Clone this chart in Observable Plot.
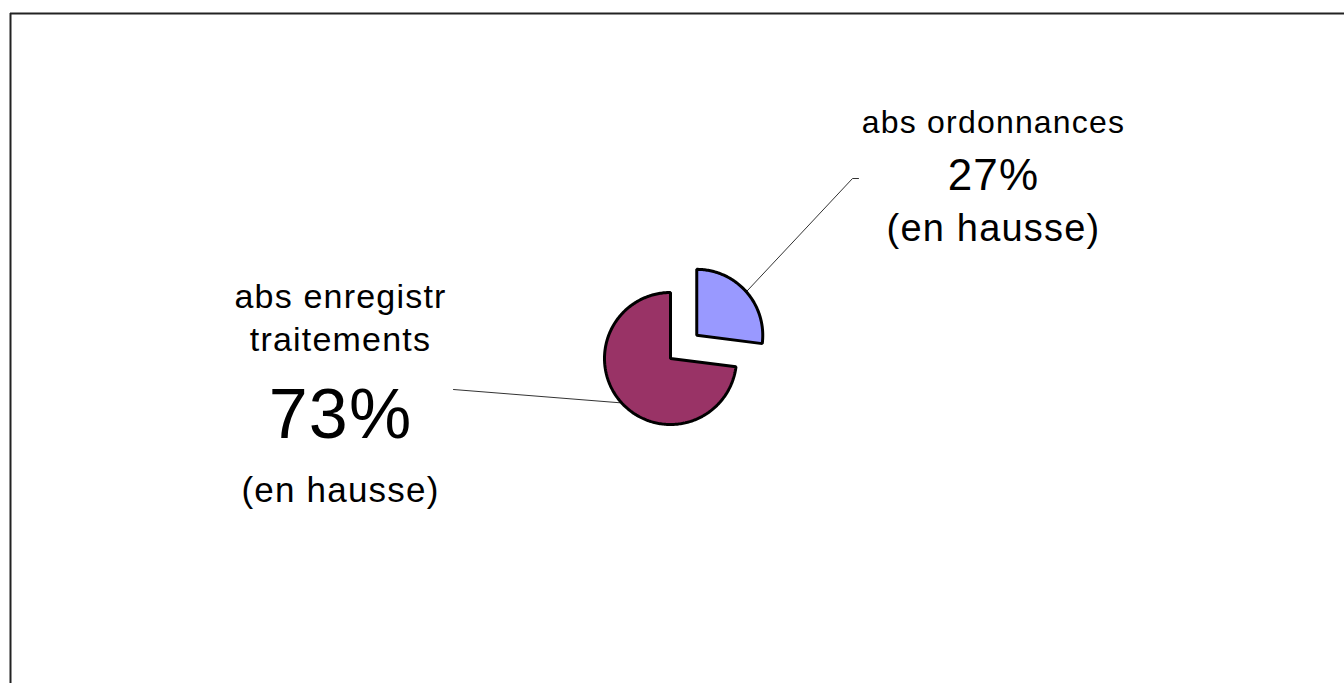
<!DOCTYPE html>
<html>
<head>
<meta charset="utf-8">
<script src="https://cdn.jsdelivr.net/npm/d3@7"></script>
<script src="https://cdn.jsdelivr.net/npm/@observablehq/plot@0.6"></script>
<style>
  body { margin: 0; background: #fff; }
  svg { display: block; }
  svg text { font-family: 'Liberation Sans', Arial, sans-serif; }
</style>
</head>
<body>
<div id="chart"></div>
<script>
// ---- data ----
const categories = ["abs enregistr traitements", "abs ordonnances"];
const shares = [73, 27];
const trends = ["(en hausse)", "(en hausse)"];
const sliceColors = ["#993366", "#9999FF"];

// ---- layout (pixels) ----
const W = 1344, H = 683;
const center = [670, 358];
const R = 66;
const explode = [0, 35];
const labelX = [340, 993];
const nameBaselines = [[307, 350], [132]];
const nameSize = [34, 32];
const pctBaseline = [437, 189];
const pctSize = [70, 44];
const trendBaseline = [501, 240];
const trendSize = [35, 38];
const leaderEnds = [[[453, 389]], [[852, 178], [858, 178]]];

// wrap a label into lines of at most 15 characters
function wrap(s, max = 15) {
  const words = s.split(" "), lines = [];
  let cur = "";
  for (const w of words) {
    const t = cur ? cur + " " + w : w;
    if (t.length > max && cur) { lines.push(cur); cur = w; } else cur = t;
  }
  if (cur) lines.push(cur);
  return lines;
}

// ---- geometry from values ----
const arcs = d3.pie().sort(null).value(i => shares[i])([1, 0]);
const slicePts = [];
const leaderPts = [];
for (const a of arcs) {
  const i = a.data;
  const mid = (a.startAngle + a.endAngle) / 2;
  const ox = center[0] + explode[i] * Math.sin(mid);
  const oy = center[1] - explode[i] * Math.cos(mid);
  slicePts.push({category: categories[i], x: ox, y: oy});
  const n = Math.ceil((a.endAngle - a.startAngle) / (Math.PI / 180));
  for (let k = 0; k <= n; k++) {
    const t = a.startAngle + (a.endAngle - a.startAngle) * k / n;
    slicePts.push({category: categories[i], x: ox + R * Math.sin(t), y: oy - R * Math.cos(t)});
  }
  leaderPts.push({category: categories[i], x: ox + (R + 1) * Math.sin(mid), y: oy - (R + 1) * Math.cos(mid)});
  for (const [lx, ly] of leaderEnds[i]) leaderPts.push({category: categories[i], x: lx, y: ly});
}

// ---- label rows ----
const textRows = [];
categories.forEach((c, i) => {
  wrap(c).forEach((line, j) => textRows.push({x: labelX[i], y: nameBaselines[i][j], text: line, size: nameSize[i]}));
  textRows.push({x: labelX[i], y: pctBaseline[i], text: `${shares[i]}%`, size: pctSize[i]});
  textRows.push({x: labelX[i], y: trendBaseline[i], text: trends[i], size: trendSize[i]});
});

const chart = Plot.plot({
  width: W,
  height: H,
  margin: 0,
  x: {domain: [0, W], range: [0, W], axis: null},
  y: {domain: [0, H], range: [0, H], axis: null},
  color: {domain: categories, range: sliceColors},
  style: {background: "white", fontFamily: "'Liberation Sans', Arial, sans-serif", letterSpacing: "1.2px"},
  marks: [
    Plot.ruleY([13], {x1: 10, x2: W, stroke: "#222", strokeWidth: 2}),
    Plot.ruleX([10], {y1: 13, y2: H, stroke: "#222", strokeWidth: 2}),
    Plot.line(leaderPts, {x: "x", y: "y", z: "category", stroke: "#333", strokeWidth: 1}),
    Plot.line(slicePts, {x: "x", y: "y", z: "category", fill: "category", stroke: "black",
      strokeWidth: 3, curve: "linear-closed", strokeLinejoin: "miter"}),
    Plot.text(textRows, {x: "x", y: "y", text: "text", fontSize: d => d.size, textAnchor: "middle",
      lineAnchor: "bottom", fill: "black", fontFamily: "'Liberation Sans', Arial, sans-serif"})
  ]
});
document.getElementById("chart").appendChild(chart);
</script>
</body>
</html>
